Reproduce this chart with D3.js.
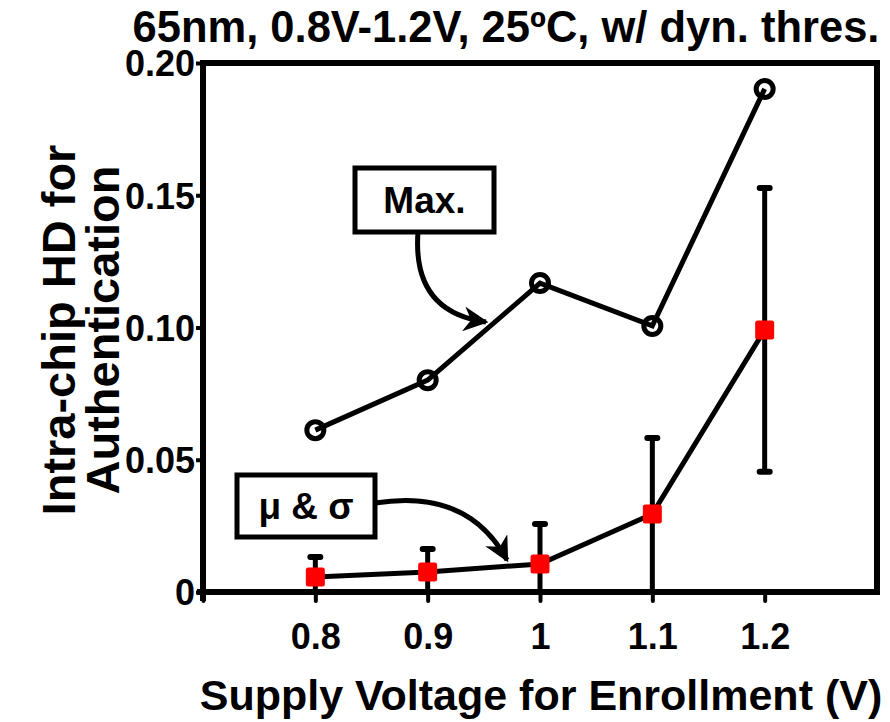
<!DOCTYPE html>
<html>
<head>
<meta charset="utf-8">
<script src="https://cdn.jsdelivr.net/npm/d3@7"></script>
<style>
  html, body { margin: 0; padding: 0; background: #fff; }
  svg text { font-family: "Liberation Sans", Arial, sans-serif; font-weight: bold; fill: #000; }
</style>
</head>
<body>
<svg id="chart" width="890" height="722"></svg>
<script>
// Supply voltage used at enrollment (V)
const voltages = [0.8, 0.9, 1.0, 1.1, 1.2];
// Maximum intra-chip HD observed at each enrollment voltage
const maxHD = [0.0612, 0.0801, 0.1168, 0.1006, 0.1902];
// Mean intra-chip HD and its standard deviation
const meanHD = [0.0057, 0.0076, 0.0106, 0.0295, 0.0991];
const sigmaHD = [0.0075, 0.0087, 0.0151, 0.0287, 0.0536];
// Axis ticks
const xTicks = [0.8, 0.9, 1.0, 1.1, 1.2];
const xTickLabels = ["0.8", "0.9", "1", "1.1", "1.2"];
const yTicks = [0, 0.05, 0.10, 0.15, 0.20];
const yTickLabels = ["0", "0.05", "0.10", "0.15", "0.20"];

const svg = d3.select("#chart");
const W = 890, H = 722;
const m = { left: 203, right: W - 877, top: 63, bottom: H - 592 };

const x = d3.scaleLinear().domain([0.7, 1.3]).range([m.left, W - m.right]);
const y = d3.scaleLinear().domain([0, 0.20]).range([H - m.bottom, m.top]);

const AXW = 6, LW = 5;

// Frame: top and right borders
svg.append("path")
  .attr("d", `M${x(0.7)},${y(0.2)} H${x(1.3)} V${y(0)}`)
  .attr("fill", "none").attr("stroke", "#000").attr("stroke-width", AXW)
  .attr("stroke-linejoin", "miter");

// Left axis
const yAxis = d3.axisLeft(y).tickValues(yTicks)
  .tickFormat((d, i) => yTickLabels[i]).tickSize(7).tickPadding(1);
const gy = svg.append("g").attr("transform", `translate(${x(0.7)},0)`).call(yAxis);
gy.select(".domain").attr("stroke-width", AXW).attr("d", `M0,${y(0) + 9}V${y(0.2) - 3}`);
gy.selectAll(".tick line").attr("stroke-width", 4);
gy.selectAll(".tick text").style("font-size", "36px").attr("dy", "0.36em");

// Bottom axis
const xAxis = d3.axisBottom(x).tickValues([0.7].concat(xTicks))
  .tickFormat(d => { const i = xTicks.indexOf(d); return i < 0 ? "" : xTickLabels[i]; })
  .tickSize(9).tickPadding(22);
const gx = svg.append("g").attr("transform", `translate(0,${y(0)})`).call(xAxis);
gx.select(".domain").attr("stroke-width", AXW).attr("d", `M${x(0.7) - 6},0H${x(1.3) + 3}`);
gx.selectAll(".tick line").attr("stroke-width", 4).attr("stroke-linecap", "round");
gx.selectAll(".tick text").style("font-size", "36px");

// Title and axis titles
svg.append("text").attr("x", 506).attr("y", 42).attr("text-anchor", "middle")
  .style("font-size", "43.5px").text("65nm, 0.8V-1.2V, 25ºC, w/ dyn. thres.");
svg.append("text").attr("x", 541).attr("y", 710).attr("text-anchor", "middle")
  .style("font-size", "43px").text("Supply Voltage for Enrollment (V)");
const yl = svg.append("text").attr("transform", "translate(75,330) rotate(-90)")
  .attr("text-anchor", "middle").style("font-size", "47px");
yl.append("tspan").attr("x", 0).attr("dy", 0).text("Intra-chip HD for");
yl.append("tspan").attr("x", 0).attr("dy", 44).text("Authentication");

const line = d3.line().x(d => x(d[0])).y(d => y(d[1]));

// Max curve
svg.append("path").datum(voltages.map((v, i) => [v, maxHD[i]]))
  .attr("d", line).attr("fill", "none").attr("stroke", "#000").attr("stroke-width", LW);
svg.selectAll("circle.max").data(voltages).join("circle").attr("class", "max")
  .attr("cx", d => x(d)).attr("cy", (d, i) => y(maxHD[i])).attr("r", 8.5)
  .attr("fill", "none").attr("stroke", "#000").attr("stroke-width", 5);

// Mean curve with ±σ error bars (clipped at the x axis)
const eb = svg.append("g");
voltages.forEach((v, i) => {
  const hi = meanHD[i] + sigmaHD[i];
  const lo = Math.max(0, meanHD[i] - sigmaHD[i]);
  eb.append("line").attr("x1", x(v)).attr("x2", x(v)).attr("y1", y(hi)).attr("y2", y(lo))
    .attr("stroke", "#000").attr("stroke-width", LW);
  eb.append("line").attr("x1", x(v) - 5).attr("x2", x(v) + 5).attr("y1", y(hi)).attr("y2", y(hi))
    .attr("stroke", "#000").attr("stroke-width", 6).attr("stroke-linecap", "round");
  if (meanHD[i] - sigmaHD[i] > 0.002) {
    eb.append("line").attr("x1", x(v) - 5).attr("x2", x(v) + 5).attr("y1", y(lo)).attr("y2", y(lo))
      .attr("stroke", "#000").attr("stroke-width", 6).attr("stroke-linecap", "round");
  }
});
svg.append("path").datum(voltages.map((v, i) => [v, meanHD[i]]))
  .attr("d", line).attr("fill", "none").attr("stroke", "#000").attr("stroke-width", LW);
svg.selectAll("rect.mean").data(voltages).join("rect").attr("class", "mean")
  .attr("x", d => x(d) - 9.5).attr("y", (d, i) => y(meanHD[i]) - 9.5)
  .attr("width", 19).attr("height", 19).attr("rx", 2.5).attr("fill", "#ff0000");

// Annotations
const defs = svg.append("defs");
defs.append("marker").attr("id", "arrow").attr("viewBox", "0 0 10 10")
  .attr("refX", 9).attr("refY", 5).attr("markerWidth", 5).attr("markerHeight", 5)
  .attr("markerUnits", "strokeWidth").attr("orient", "auto")
  .append("path").attr("d", "M0,0 L10,5 L0,10 L3,5 Z").attr("fill", "#000");

function callout(bx, by, bw, bh, label, pathD) {
  svg.append("path").attr("d", pathD).attr("fill", "none").attr("stroke", "#000")
    .attr("stroke-width", LW).attr("marker-end", "url(#arrow)");
  svg.append("rect").attr("x", bx).attr("y", by).attr("width", bw).attr("height", bh)
    .attr("fill", "#fff").attr("stroke", "#000").attr("stroke-width", 5);
  svg.append("text").attr("x", bx + bw / 2).attr("y", by + bh / 2).attr("dy", "0.36em")
    .attr("text-anchor", "middle").style("font-size", "37px").text(label);
}
callout(355, 168, 139, 64, "Max.", "M418,232 Q412,312 486,322");
callout(237, 475, 138, 62, "μ & σ", "M375,503 Q468,488 507,560");
</script>
</body>
</html>
